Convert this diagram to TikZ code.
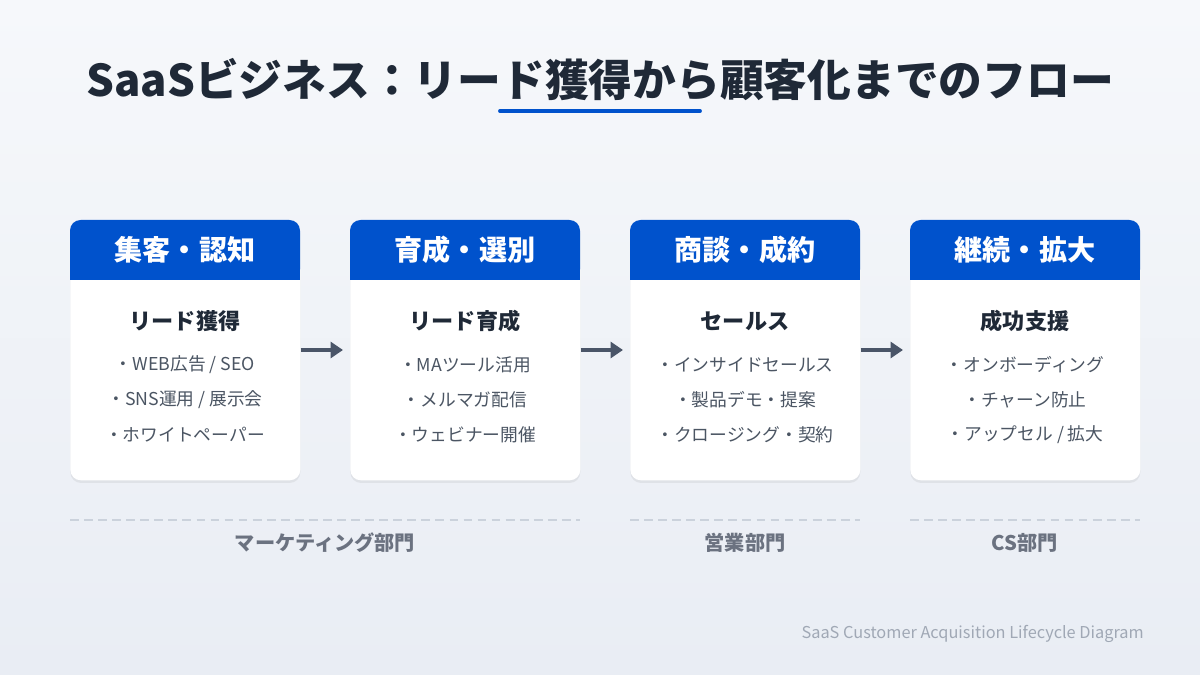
\documentclass[tikz,border=0pt]{standalone}
\usepackage{fontspec}
\setmainfont{Noto Sans CJK JP}
\usetikzlibrary{positioning,shadows,arrows.meta}
\definecolor{hdblue}{HTML}{0052CC}
\definecolor{ink}{HTML}{1F2937}
\definecolor{itemgray}{HTML}{4B5563}
\definecolor{arrowgray}{HTML}{4A5568}
\definecolor{dashgray}{HTML}{CBD2DC}
\definecolor{deptgray}{HTML}{6B7280}
\definecolor{footgray}{HTML}{A0A8B5}
\definecolor{bgtop}{HTML}{F6F8FB}
\definecolor{bgbot}{HTML}{E9EDF4}
\begin{document}
\begin{tikzpicture}[x=0.02cm,y=-0.02cm,
	card/.style={fill=white, rounded corners=6pt, minimum width=4.6cm, minimum height=5.2cm, anchor=north west, inner sep=0pt, drop shadow={opacity=0.12, shadow xshift=0pt, shadow yshift=-1.5pt}},
	head/.style={text=white, font=\bfseries\fontsize{16}{18}\selectfont},
	sub/.style={text=ink, font=\bfseries\fontsize{12.6}{14}\selectfont},
	item/.style={text=itemgray, font=\fontsize{10.1}{12}\selectfont},
	dept/.style={text=deptgray, font=\bfseries\fontsize{11.5}{13}\selectfont},
	flow/.style={-{Triangle[length=7pt,width=9pt]}, line width=2.5pt, draw=arrowgray},
	sep/.style={draw=dashgray, line width=1pt, dash pattern=on 5pt off 3pt}
	]
	\useasboundingbox (0,0) rectangle (1200,675);
	\shade[top color=bgtop, bottom color=bgbot] (0,0) rectangle (1200,675);
	
	% title
	\node[text=ink, font=\bfseries\fontsize{24.9}{28}\selectfont] (title) at (600,80) {SaaSビジネス：リード獲得から顧客化までのフロー};
	\coordinate (ulA) at (500,111);
	\coordinate (ulB) at (700,111);
	\draw[hdblue, line width=2.2pt, line cap=round] (ulA) -- (ulB);
	
	% cards
	\foreach \i/\x/\h/\s/\a/\b/\c in {
		1/70/集客・認知/リード獲得/{・WEB広告 / SEO}/{・SNS運用 / 展示会}/・ホワイトペーパー,
		2/350/育成・選別/リード育成/・MAツール活用/・メルマガ配信/・ウェビナー開催,
		3/630/商談・成約/セールス/・インサイドセールス/・製品デモ・提案/・クロージング・契約,
		4/910/継続・拡大/成功支援/・オンボーディング/・チャーン防止/{・アップセル / 拡大}}{
		\node[card] (c\i) at (\x,220) {};
		\fill[hdblue, rounded corners=6pt] (\x,220) rectangle (\x+230,280);
		\fill[hdblue] (\x,260) rectangle (\x+230,280);
		\node[head] (h\i) at (\x+115,250) {\h};
		\node[sub] (s\i) at (\x+115,321) {\s};
		\node[item] (a\i) at (\x+115,365) {\a};
		\node[item] (b\i) at (\x+115,400) {\b};
		\node[item] (d\i) at (\x+115,435) {\c};
	}
	
	% arrows
	\foreach \i/\j in {1/2,2/3,3/4}{
		\draw[flow] (c\i.east |- 0,350) -- ([xshift=-4pt]c\j.west |- 0,350);
	}
	
	% departments
	\coordinate (m1) at (70,520);  \coordinate (m2) at (580,520);
	\coordinate (e1) at (630,520); \coordinate (e2) at (860,520);
	\coordinate (k1) at (910,520); \coordinate (k2) at (1140,520);
	\draw[sep] (m1) -- (m2);
	\draw[sep] (e1) -- (e2);
	\draw[sep] (k1) -- (k2);
	\node[dept] (mk) at (325,543) {マーケティング部門};
	\node[dept] (sl) at (745,543) {営業部門};
	\node[dept] (cs) at (1025,543) {CS部門};
	
	\node[text=footgray, font=\fontsize{9.3}{11}\selectfont, anchor=east] (foot) at (1150,634) {SaaS Customer Acquisition Lifecycle Diagram};
\end{tikzpicture}
\end{document}
